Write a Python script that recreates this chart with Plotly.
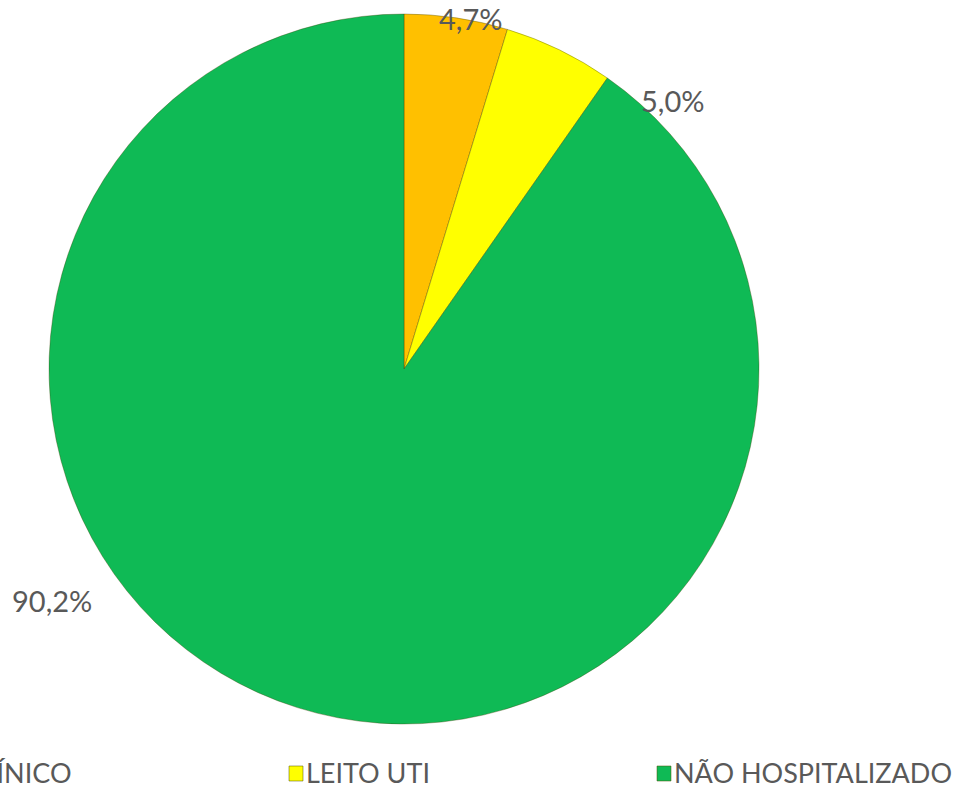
import plotly.graph_objects as go

categories = ["LEITO CLÍNICO", "LEITO UTI", "NÃO HOSPITALIZADO"]
values = [4.7, 5.0, 90.2]
colors = ["#FFC000", "#FFFF00", "#0FBA55"]

W, H = 961, 788
FONT = "Lato, Open Sans, sans-serif"
TXT = "#595959"

fig = go.Figure(go.Pie(
    labels=categories,
    values=values,
    sort=False,
    direction="clockwise",
    rotation=0,
    textinfo="none",
    hoverinfo="label+percent",
    marker=dict(colors=colors, line=dict(color="rgba(60,60,0,0.35)", width=1)),
    domain=dict(x=[49 / W, 759 / W], y=[64 / H, 774 / H]),
    showlegend=False,
))

def fmt(v):
    return f"{v:.1f}".replace(".", ",") + "%"

# data label positions (pixel centres) per slice
label_pos = [(470, 18), (672, 100), (52, 600)]
annotations = []
for v, (px, py) in zip(values, label_pos):
    annotations.append(dict(
        x=px / W, y=(H - py) / H, xref="paper", yref="paper",
        text=fmt(v), showarrow=False, xanchor="center", yanchor="middle",
        font=dict(family=FONT, size=29, color=TXT)))

# manual legend (first entry partly off-canvas like the reference)
legend_x = [-79, 289, 657]
shapes = []
ly = 772
for cat, col, lx in zip(categories, colors, legend_x):
    shapes.append(dict(type="rect", xref="paper", yref="paper",
                       x0=lx / W, x1=(lx + 14) / W,
                       y0=(H - (ly + 9)) / H, y1=(H - (ly - 6)) / H,
                       fillcolor=col, line=dict(color="rgba(80,80,0,0.5)", width=1)))
for i, (cat, lx) in enumerate(zip(categories, legend_x)):
    if i == 0:
        annotations.append(dict(x=74 / W, y=(H - ly) / H, xref="paper", yref="paper",
                                text=cat, showarrow=False, xanchor="right", yanchor="middle",
                                font=dict(family=FONT, size=27, color=TXT)))
    else:
        annotations.append(dict(x=(lx + 15) / W, y=(H - ly) / H, xref="paper", yref="paper",
                                text=cat, showarrow=False, xanchor="left", yanchor="middle",
                                font=dict(family=FONT, size=27, color=TXT)))

fig.update_layout(
    width=W, height=H,
    margin=dict(l=0, r=0, t=0, b=0),
    paper_bgcolor="white", plot_bgcolor="white",
    annotations=annotations, shapes=shapes,
)

fig.write_html("out.html", config={"displayModeBar": False},
               post_script="document.body.style.margin='0';")
